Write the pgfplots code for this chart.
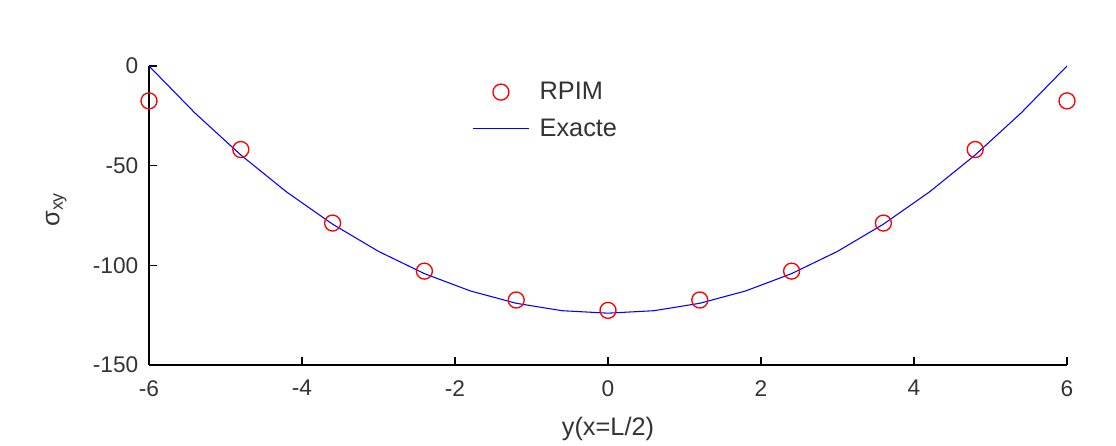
\documentclass[border=0pt]{standalone}
\usepackage{pgfplots}
\pgfplotsset{compat=1.18}
\usepackage{fontspec}
\setmainfont{Liberation Sans}
\usetikzlibrary{calc}
\begin{document}
\begin{tikzpicture}
\begin{axis}[
  scale only axis,
  width=688.5pt, height=224.25pt,
  xmin=-6, xmax=6, ymin=-150, ymax=0,
  axis lines=left,
  axis line style={-, black, line width=0.8pt},
  tick align=inside,
  major tick length=6pt,
  tick style={black, line width=0.8pt},
  xtick={-6,-4,-2,0,2,4,6},
  ytick={-150,-100,-50,0},
  /pgf/number format/assume math mode=true,
  tick label style={font=\fontsize{17}{20}\selectfont, text=black!80},
  label style={font=\fontsize{19}{22}\selectfont, text=black!80},
  xticklabel style={yshift=-8pt},
  yticklabel style={xshift=-4.5pt},
  xlabel={y(x=L/2)},
  ylabel={σ\textsubscript{xy}},
  xlabel style={at={(axis description cs:0.5,-0.215)}, anchor=center},
  ylabel style={at={(axis description cs:-0.101,0.52)}, anchor=center},
  legend style={at={(0.352,0.955)}, anchor=north west, draw=none, fill=none,
    font=\fontsize{19}{22}\selectfont, text=black!80, row sep=9pt,
    inner sep=0pt},
  legend cell align=left,
]
\addplot[only marks, mark=o, mark size=6pt, color=red, mark options={line width=1pt},
  legend image code/.code={\path[draw=none,fill=none] (0pt,0) -- (48pt,0); \draw[red, line width=1pt] (21pt,0) circle (6pt);}]
coordinates {
(-6,-17.5) (-4.8,-41.9) (-3.6,-78.8) (-2.4,-102.9) (-1.2,-117.4) (0,-122.6)
(1.2,-117.4) (2.4,-102.9) (3.6,-78.8) (4.8,-41.9) (6,-17.5)
};
\addlegendentry{RPIM}
\addplot[color=blue, line width=0.8pt, mark=none,
  legend image code/.code={\path[draw=none,fill=none] (0pt,0) -- (48pt,0); \draw[blue, line width=0.8pt] (0pt,0) -- (42pt,0);}]
coordinates {
(-6,0) (-5.4,-23.56) (-4.8,-44.64) (-4.2,-63.24) (-3.6,-79.36) (-3.0,-93.0)
(-2.4,-104.16) (-1.8,-112.84) (-1.2,-119.04) (-0.6,-122.76) (0,-124.0)
(0.6,-122.76) (1.2,-119.04) (1.8,-112.84) (2.4,-104.16) (3.0,-93.0)
(3.6,-79.36) (4.2,-63.24) (4.8,-44.64) (5.4,-23.56) (6,0)
};
\addlegendentry{Exacte}
\end{axis}
\useasboundingbox ($(current axis.south west)+(-111.75pt,-60pt)$) rectangle ($(current axis.north east)+(36.75pt,49.5pt)$);
\end{tikzpicture}
\end{document}
